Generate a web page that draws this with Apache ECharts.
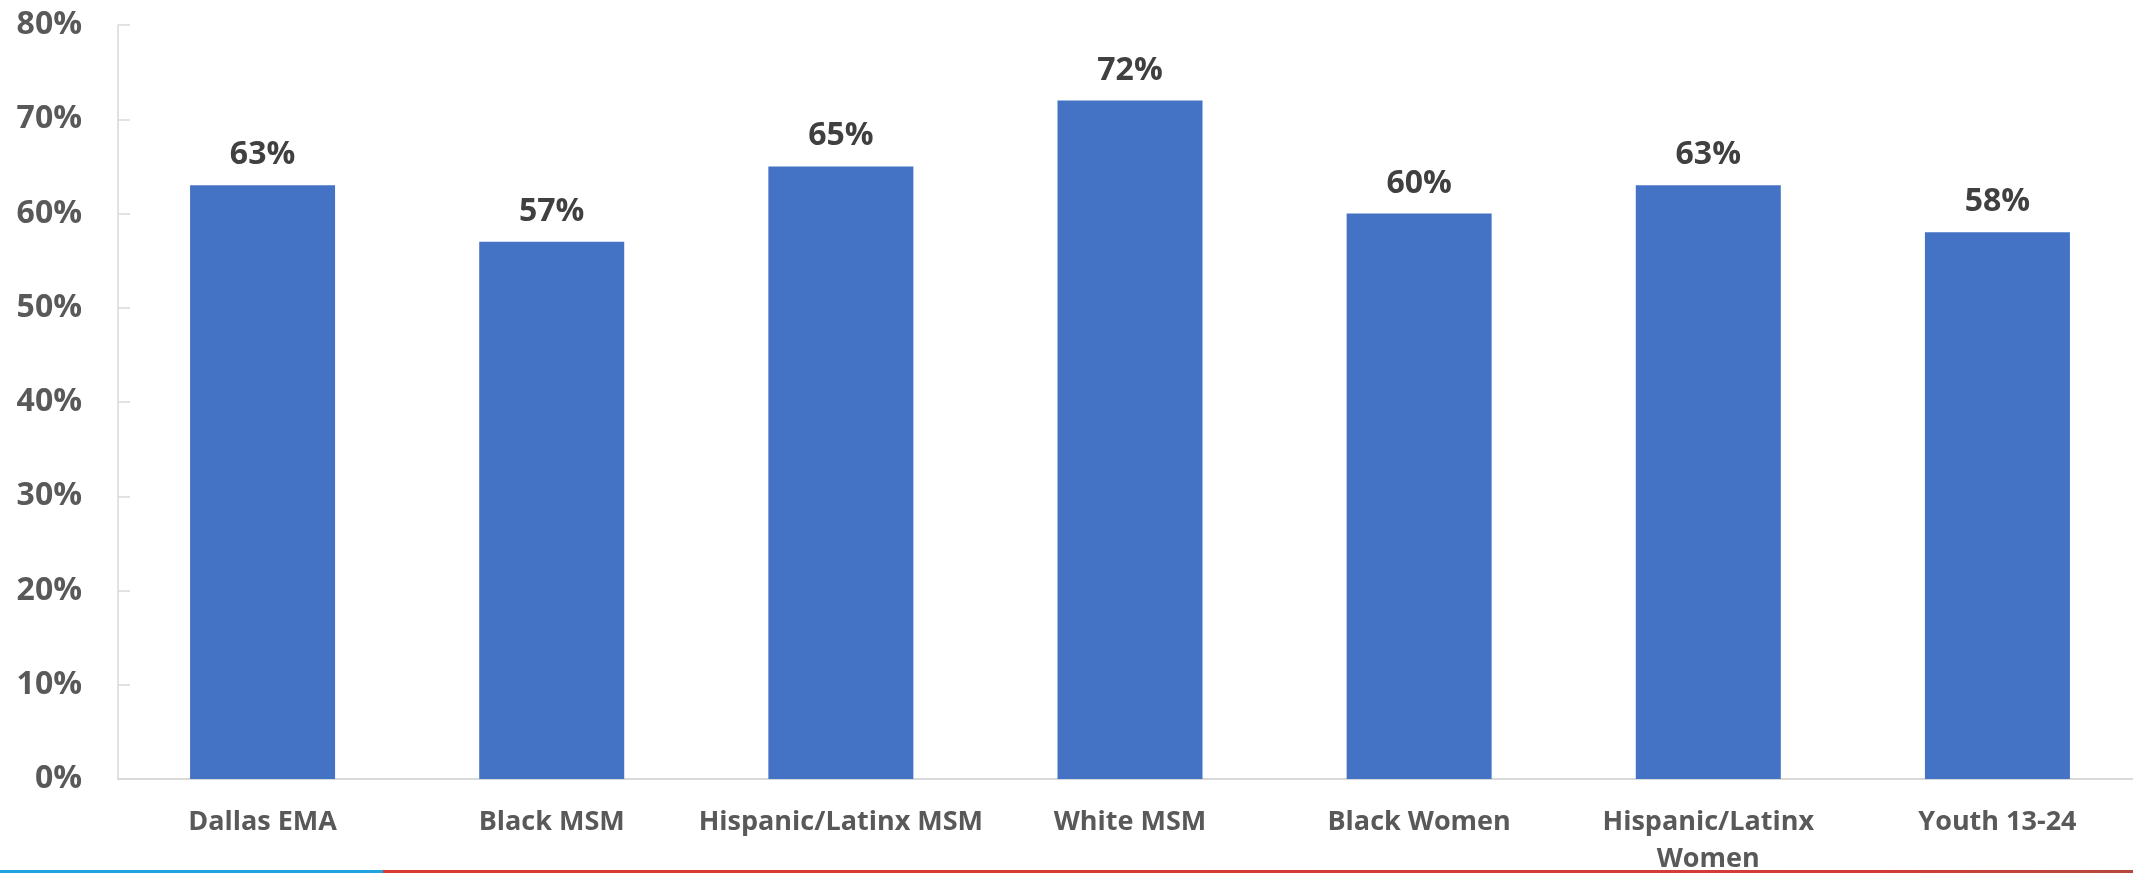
<!DOCTYPE html>
<html>
<head>
<meta charset="utf-8">
<style>
  html, body { margin: 0; padding: 0; background: #ffffff; }
  #chart { width: 2133px; height: 873px; }
</style>
<script src="https://cdn.jsdelivr.net/npm/echarts@6/dist/echarts.min.js"></script>
</head>
<body>
<div id="chart"></div>
<script>
const categories = ['Dallas EMA', 'Black MSM', 'Hispanic/Latinx MSM', 'White MSM', 'Black Women', 'Hispanic/Latinx\nWomen', 'Youth 13-24'];
const values = [63, 57, 65, 72, 60, 63, 58];
const yTicks = [0, 10, 20, 30, 40, 50, 60, 70, 80];

const chart = echarts.init(document.getElementById('chart'), null, { renderer: 'canvas' });
const FONT = '"Open Sans", "Noto Sans", sans-serif';

chart.setOption({
  animation: false,
  backgroundColor: '#ffffff',
  grid: { left: 118, width: 2024, top: 25, bottom: 94, containLabel: false, outerBoundsMode: 'none' },
  xAxis: {
    type: 'category',
    data: categories,
    axisLine: { show: true, lineStyle: { color: '#d9d9d9', width: 2 } },
    axisTick: { show: false },
    axisLabel: {
      interval: 0,
      margin: 25,
      color: '#595959',
      fontFamily: FONT,
      fontWeight: 'bold',
      fontSize: 27,
      lineHeight: 37
    }
  },
  yAxis: {
    type: 'value',
    min: yTicks[0],
    max: yTicks[yTicks.length - 1],
    interval: 10,
    splitLine: { show: false },
    axisLine: { show: true, lineStyle: { color: '#d9d9d9', width: 1.5 } },
    axisTick: { show: true, inside: true, length: 12, lineStyle: { color: '#d9d9d9', width: 1.5 } },
    axisLabel: {
      margin: 36,
      color: '#595959',
      fontFamily: FONT,
      fontWeight: 'bold',
      fontSize: 32,
      formatter: v => v + '%'
    }
  },
  series: [{
    type: 'bar',
    data: values,
    barWidth: 145,
    itemStyle: { color: '#4472c4' },
    label: {
      show: true,
      position: 'top',
      distance: 14,
      color: '#404040',
      fontFamily: FONT,
      fontWeight: 'bold',
      fontSize: 32,
      formatter: p => p.value + '%'
    }
  }],
  graphic: [
    { type: 'rect', left: 0, top: 870, shape: { width: 383, height: 3 }, style: { fill: '#20a4df' }, silent: true },
    { type: 'rect', left: 383, top: 870, shape: { width: 1750, height: 3 },
      style: { fill: new echarts.graphic.LinearGradient(0, 0, 1, 0, [
        { offset: 0, color: '#d93a33' }, { offset: 0.85, color: '#d23b34' }, { offset: 1, color: '#b5493f' }
      ]) }, silent: true }
  ]
});
</script>
</body>
</html>
